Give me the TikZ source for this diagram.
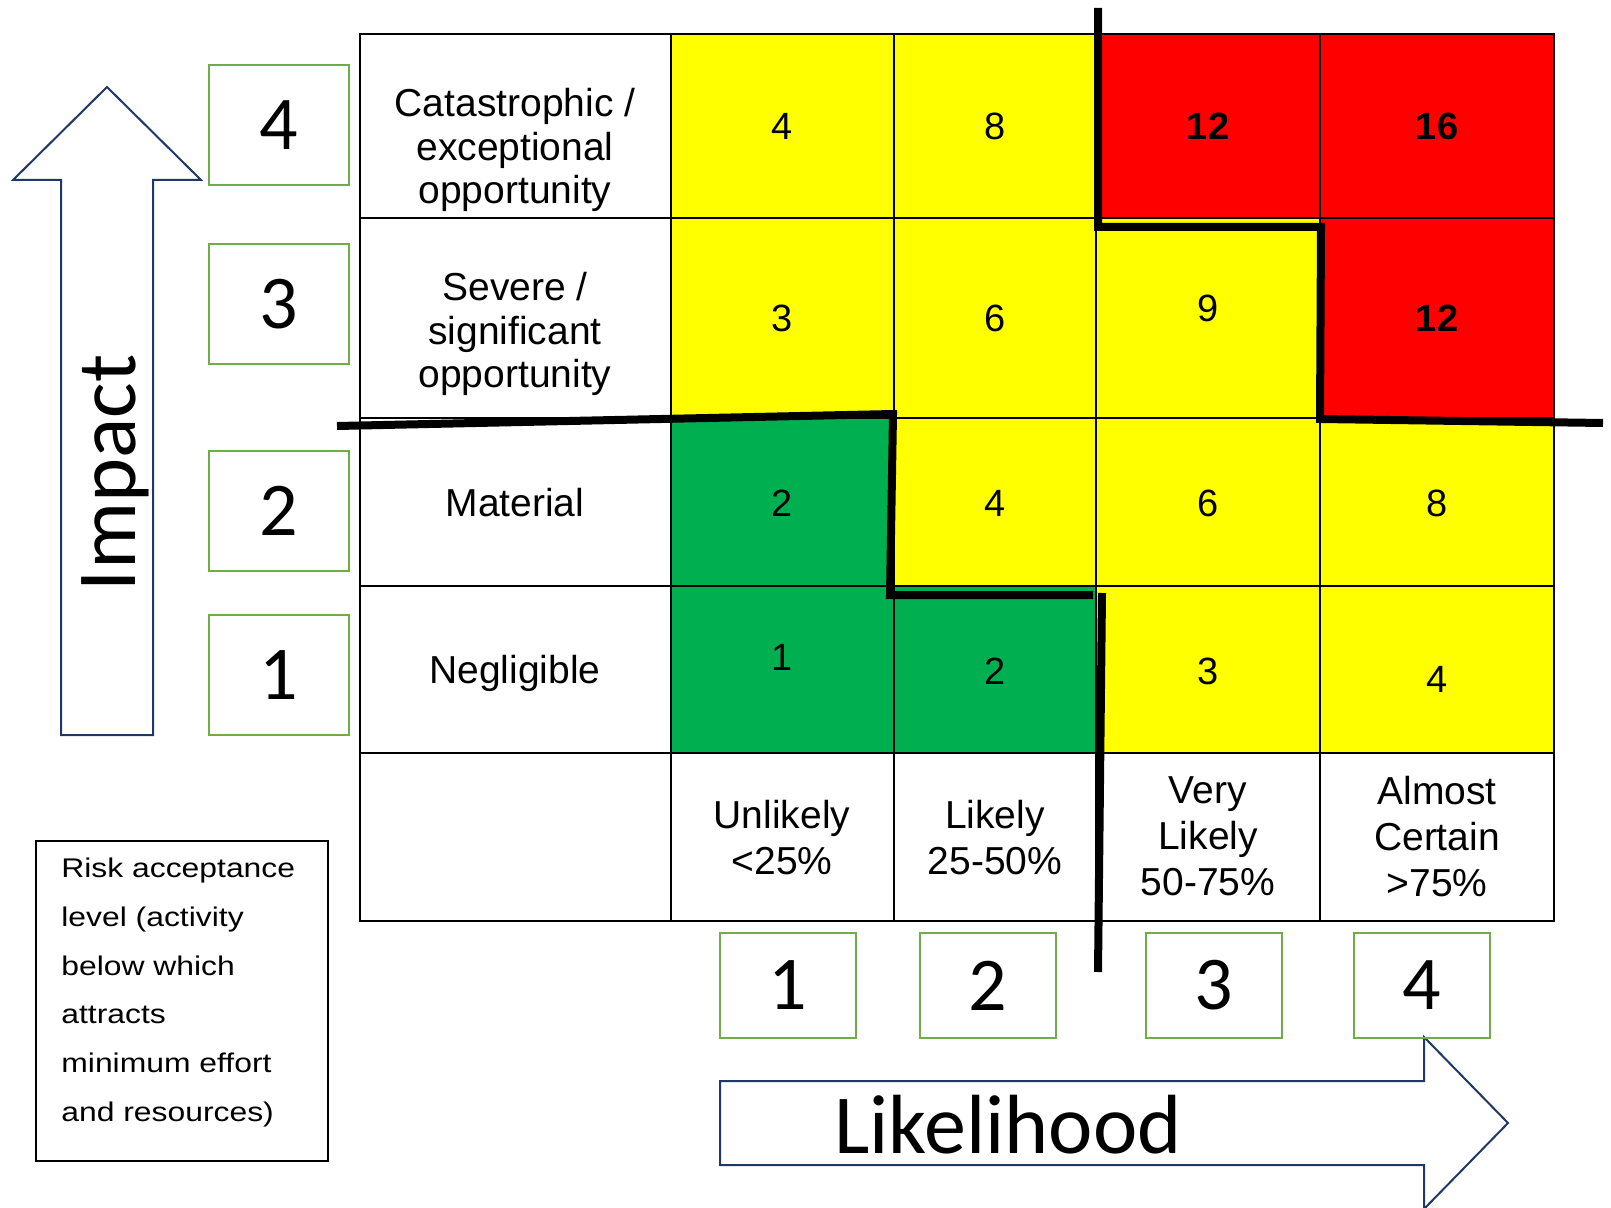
\documentclass[tikz,border=0pt]{standalone}
\usepackage{fontspec}
\setmainfont{Liberation Sans}
\newfontfamily\calibrifont{Carlito}
\newfontfamily\notefont[FakeStretch=1.18]{Liberation Sans}

\definecolor{riskred}{HTML}{FF0000}
\definecolor{riskyellow}{HTML}{FFFF00}
\definecolor{riskgreen}{HTML}{00B050}
\definecolor{lvlgreen}{HTML}{70AD47}
\definecolor{arrowblue}{HTML}{1F3864}

\begin{document}
\begin{tikzpicture}[x=0.5pt,y=-0.5pt,
    gridline/.style={draw=black,line width=0.9pt},
    bound/.style={line width=4pt,line join=miter},
    cellnum/.style={font=\fontsize{19}{22}\selectfont,anchor=base,inner sep=0pt},
    cellbold/.style={cellnum,font=\fontsize{19}{22}\selectfont\bfseries},
    rowlab/.style={font=\fontsize{19.5}{21.75}\selectfont,align=center,inner sep=0pt},
    collab/.style={font=\fontsize{19.5}{23}\selectfont,align=center,inner sep=0pt},
    lvl/.style={draw=lvlgreen,line width=1pt,inner sep=0pt,
        font=\calibrifont\fontsize{38}{40}\selectfont},
    bigarrow/.style={draw=arrowblue,line width=1pt,fill=white,line join=miter},
    axislab/.style={font=\calibrifont\fontsize{42}{46}\selectfont,anchor=base,inner sep=0pt},
    note/.style={font=\notefont\fontsize{13.5}{24.4}\selectfont,align=left,inner sep=0pt}]
    \useasboundingbox (0,0) rectangle (1611,1208);

    % cell colours
    \foreach \xa/\xb/\ya/\yb/\c in {
        671/894/34/218/riskyellow, 894/1096/34/218/riskyellow, 1096/1320/34/218/riskred, 1320/1554/34/218/riskred,
        671/894/218/418/riskyellow, 894/1096/218/418/riskyellow, 1096/1320/218/418/riskyellow, 1320/1554/218/418/riskred,
        671/894/418/586/riskgreen, 894/1096/418/586/riskyellow, 1096/1320/418/586/riskyellow, 1320/1554/418/586/riskyellow,
        671/894/586/753/riskgreen, 894/1096/586/753/riskgreen, 1096/1320/586/753/riskyellow, 1320/1554/586/753/riskyellow}
        \fill[\c] (\xa,\ya) rectangle (\xb,\yb);

    % grid
    \foreach \x in {671,894,1096,1320}
        \draw[gridline] (\x,34) -- (\x,921);
    \foreach \y in {218,418,586,753}
        \draw[gridline] (360,\y) -- (1554,\y);
    \draw[gridline,line width=1.4pt] (360,34) rectangle (1554,921);

    % scores
    \foreach \v/\x/\y/\nm in {4/782/140/s41, 8/995/140/s42, 3/782/332/s31, 6/995/332/s32, 9/1208/322/s33,
        2/782/516/s21, 4/995/516/s22, 6/1208/516/s23, 8/1437/516/s24,
        1/782/670/s11, 2/995/684/s12, 3/1208/684/s13, 4/1437/692/s14}
        \node[cellnum] (\nm) at (\x,\y) {\v};
    \foreach \v/\x/\y/\nm in {12/1208/140/s43, 16/1437/140/s44, 12/1437/332/s34}
        \node[cellbold] (\nm) at (\x,\y) {\v};

    % impact labels
    \node[rowlab] (imp4) at (515,150) {Catastrophic /\\exceptional\\opportunity};
    \node[rowlab] (imp3) at (515,334) {Severe /\\significant\\opportunity};
    \node[rowlab,anchor=base] (imp2) at (515,516) {Material};
    \node[rowlab,anchor=base] (imp1) at (515,683) {Negligible};

    % likelihood labels
    \node[collab] (lik1) at (782,838) {Unlikely\\<25\%};
    \node[collab] (lik2) at (995,838) {Likely\\25-50\%};
    \node[collab] (lik3) at (1208,836) {Very\\Likely\\50-75\%};
    \node[collab] (lik4) at (1437,836.5) {Almost\\Certain\\>75\%};

    % acceptance boundaries
    \draw[bound] (337,426) -- (893,414) -- (890,595) -- (1093,595);
    \draw[bound] (1102,593) -- (1098,972);
    \draw[bound] (1098,8) -- (1098,227) -- (1321,227) -- (1320,419) -- (1603,423);

    % axes
    \draw[bigarrow] (61,735) -- (61,180) -- (13,180) -- (107,87) -- (201,180) -- (153,180) -- (153,735) -- cycle;
    \node[axislab,rotate=90] (impact) at (135,473) {Impact};
    \draw[bigarrow] (720,1081) -- (1424,1081) -- (1424,1037) -- (1508,1123) -- (1424,1209) -- (1424,1165) -- (720,1165) -- cycle;
    \node[axislab] (likelihood) at (1008,1153) {Likelihood};

    % level boxes
    \foreach \v/\y in {4/125.4, 3/303.8, 2/510.5, 1/675}
        \node[lvl,minimum width=70pt,minimum height=60pt] (impl\v) at (279,\y) {\v};
    \foreach \v/\x in {1/788, 2/988, 3/1214, 4/1421.5}
        \node[lvl,minimum width=68pt,minimum height=52.5pt] (likl\v) at (\x,985.5) {\v};

    % acceptance note
    \draw[line width=1.25pt] (36,841) rectangle (328,1161);
    \node[note,anchor=north west] (accept) at (61,857.5)
        {Risk acceptance\\level (activity\\below which\\attracts\\minimum effort\\and resources)};
\end{tikzpicture}
\end{document}
